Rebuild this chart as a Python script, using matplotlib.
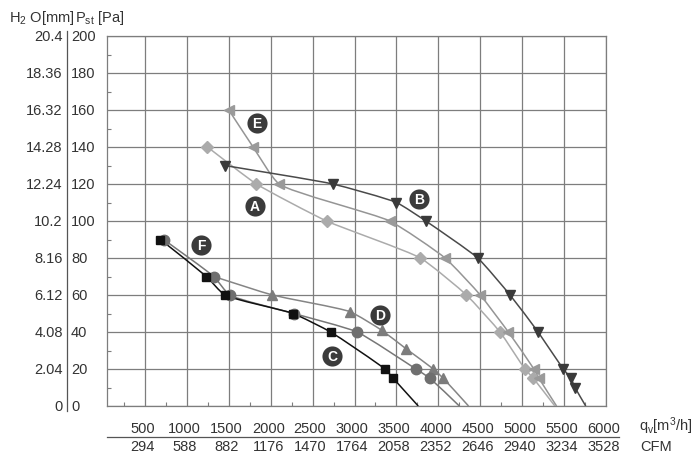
import matplotlib
matplotlib.use('Agg')
import numpy as np
import matplotlib.pyplot as plt
from matplotlib.lines import Line2D
from matplotlib.path import Path
from matplotlib.patches import PathPatch

plt.rcParams['font.family'] = ['Liberation Sans', 'DejaVu Sans']
plt.rcParams['mathtext.fontset'] = 'custom'
plt.rcParams['mathtext.rm'] = 'Liberation Sans'
plt.rcParams['mathtext.it'] = 'Liberation Sans:italic'

# ---- axis tick values / labels ----
qv_ticks = [500, 1000, 1500, 2000, 2500, 3000, 3500, 4000, 4500, 5000, 5500, 6000]
cfm_labels = ['294', '588', '882', '1176', '1470', '1764', '2058', '2352', '2646', '2940', '3234', '3528']
pa_ticks = [0, 20, 40, 60, 80, 100, 120, 140, 160, 180, 200]
h2o_labels = ['0', '2.04', '4.08', '6.12', '8.16', '10.2', '12.24', '14.28', '16.32', '18.36', '20.4']

# ---- series (qv m3/h, Pst Pa) ----
A_x = [1245, 1830, 2666, 3785, 4335, 4735, 5033, 5133, 5390]
A_y = [140, 120, 100, 80, 60, 40, 20, 15, 0]
B_x = [1450, 2740, 3500, 3850, 4470, 4855, 5190, 5490, 5580, 5630, 5758]
B_y = [130, 120, 110, 100, 80, 60, 40, 20, 15, 10, 0]
C_x = [684, 1233, 1452, 2267, 2714, 3362, 3461, 3760]
C_y = [90, 70, 60, 50, 40, 20, 15, 0]
D_x = [1320, 2021, 2944, 3322, 3613, 3940, 4058, 4360]
D_y = [70, 60, 51, 41, 31, 20, 15, 0]
E_x = [1500, 1790, 2100, 3420, 4080, 4500, 4835, 5140, 5200, 5410]
E_y = [160, 140, 120, 100, 80, 60, 40, 20, 15, 0]
F_x = [723, 1320, 1511, 2276, 3031, 3732, 3899, 4250]
F_y = [90, 70, 60, 50, 40, 20, 15, 0]

label_names = ['A', 'B', 'C', 'D', 'E', 'F']
label_x = [1810, 3768, 2733, 3302, 1837, 1174]
label_y = [108, 112, 27, 49, 153, 87]

W, H = 700, 464
XMIN, XMAX, YMIN, YMAX = 47, 6000, 0, 200
fig = plt.figure(figsize=(W / 100, H / 100), dpi=100)
L, R, T, Bt = 107, 606, 37, 407
ax = fig.add_axes([L / W, 1 - Bt / H, (R - L) / W, (Bt - T) / H])
ax.set_xlim(XMIN, XMAX)
ax.set_ylim(YMIN, YMAX)

grid_c = '#7d7d7d'
ax.set_xticks(qv_ticks)
ax.set_yticks(pa_ticks)
ax.set_xticks([t - 250 for t in qv_ticks], minor=True)
ax.set_yticks([t + 10 for t in pa_ticks[:-1]], minor=True)
ax.grid(True, which='major', color=grid_c, lw=0.9)
ax.tick_params(which='major', length=0, labelbottom=False, labelleft=False)
ax.tick_params(which='minor', direction='in', length=3, width=0.8, color=grid_c)
for s in ax.spines.values():
    s.set_color(grid_c)
    s.set_linewidth(0.9)

sx = (R - L) / (XMAX - XMIN)
sy = (Bt - T) / (YMAX - YMIN)


def smooth_path(xs, ys, alpha=0.5, k=0.5):
    """Relaxed centripetal Catmull-Rom through the points, as cubic Bezier segments."""
    P = np.column_stack([np.asarray(xs, float) * sx, np.asarray(ys, float) * sy])
    n = len(P)
    ext = np.vstack([2 * P[0] - P[1], P, 2 * P[-1] - P[-2]])
    verts = [P[0]]
    codes = [Path.MOVETO]
    for i in range(n - 1):
        p0, p1, p2, p3 = ext[i], ext[i + 1], ext[i + 2], ext[i + 3]
        d1 = max(np.linalg.norm(p1 - p0) ** alpha, 1e-6)
        d2 = max(np.linalg.norm(p2 - p1) ** alpha, 1e-6)
        d3 = max(np.linalg.norm(p3 - p2) ** alpha, 1e-6)
        b1 = (d1 ** 2 * p2 - d2 ** 2 * p0 + (2 * d1 ** 2 + 3 * d1 * d2 + d2 ** 2) * p1) / (3 * d1 * (d1 + d2))
        b2 = (d3 ** 2 * p1 - d2 ** 2 * p3 + (2 * d3 ** 2 + 3 * d3 * d2 + d2 ** 2) * p2) / (3 * d3 * (d3 + d2))
        b1 = p1 + k * (b1 - p1)
        b2 = p2 + k * (b2 - p2)
        verts += [b1, b2, p2]
        codes += [Path.CURVE4] * 3
    V = np.array(verts)
    V[:, 0] /= sx
    V[:, 1] /= sy
    return Path(V, codes)


series = [
    (A_x, A_y, 'D', '#ababab', '#ababab', 6.5, slice(0, -1)),
    (E_x, E_y, '<', '#9a9a9a', '#959595', 7.5, slice(0, -1)),
    (D_x, D_y, '^', '#7c7c7c', '#858585', 7.5, slice(1, -1)),
    (F_x, F_y, 'o', '#6f6f6f', '#777777', 7.5, slice(0, -1)),
    (B_x, B_y, 'v', '#3a3a3a', '#4a4a4a', 7.5, slice(0, -1)),
    (C_x, C_y, 's', '#111111', '#111111', 5.5, slice(0, -1)),
]
for xs, ys, mk, mc, lc, ms, me in series:
    ax.add_patch(PathPatch(smooth_path(xs, ys), fc='none', ec=lc, lw=1.1, zorder=3))
    ax.plot(xs[me], ys[me], ls='none', marker=mk, ms=ms, color=mc, mec=mc, zorder=4)

for n, lx, ly in zip(label_names, label_x, label_y):
    ax.scatter([lx], [ly], s=210, color='#3b3b3b', zorder=6, linewidths=0)
    ax.text(lx, ly, n, color='white', ha='center', va='center', fontsize=10,
            fontweight='bold', zorder=7)

txt_c = '#333333'
# y labels
ytr = ax.get_yaxis_transform()
for v, h in zip(pa_ticks, h2o_labels):
    ax.text(-36 / (R - L), v, str(v), transform=ytr, ha='left', va='center',
            fontsize=10.5, color=txt_c, clip_on=False)
    ax.text(-44.3 / (R - L), v, h, transform=ytr, ha='right', va='center',
            fontsize=10.5, color=txt_c, clip_on=False)
ax.add_line(Line2D([-39.7 / (R - L)] * 2, [(Bt - 32) / (Bt - T), (Bt - 412) / (Bt - T)],
                   transform=ax.transAxes, color='#555555', lw=0.9, clip_on=False))

# x labels
xtr = ax.get_xaxis_transform()
for v, c in zip(qv_ticks, cfm_labels):
    ax.text(v - 30, -(429 - Bt) / (Bt - T), str(v), transform=xtr, ha='center',
            va='center', fontsize=10.5, color=txt_c, clip_on=False)
    ax.text(v - 30, -(447 - Bt) / (Bt - T), c, transform=xtr, ha='center',
            va='center', fontsize=10.5, color=txt_c, clip_on=False)
ax.add_line(Line2D([0, (619 - L) / (R - L)], [-(438 - Bt) / (Bt - T)] * 2,
                   transform=ax.transAxes, color='#555555', lw=0.9, clip_on=False))

fig.text(639 / W, 1 - 426 / H, r'q$_\mathrm{v}$[m$^3$/h]', ha='left', va='center',
         fontsize=10.5, color=txt_c)
fig.text(640 / W, 1 - 447 / H, 'CFM', ha='left', va='center', fontsize=10.5, color=txt_c)

fig.text(9 / W, 1 - 18 / H, r'H$_2$ O[mm]', ha='left', va='center', fontsize=10.5, color=txt_c)
fig.text(75 / W, 1 - 18 / H, r'P$_\mathrm{st}$ [Pa]', ha='left', va='center', fontsize=10.5, color=txt_c)

fig.savefig('out.png', dpi=100)
